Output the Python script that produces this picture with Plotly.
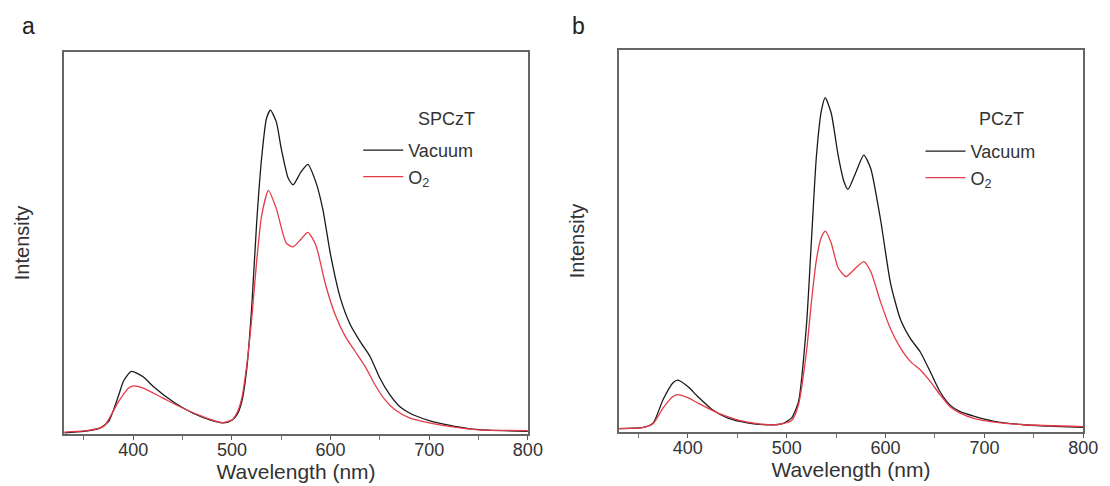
import plotly.graph_objects as go

# ---------- Data (relative intensity) ----------
# Panel a: SPCzT
a_vac_x = [330, 350, 365, 375, 385, 390, 398, 410, 420, 440, 460, 480, 492, 500, 505, 510, 515, 520, 525, 530, 535, 539,
           545, 550, 557, 562, 570, 577, 585, 592, 600, 610, 620, 630, 640, 650, 660, 670, 680, 700, 720, 740, 760, 800]
a_vac_y = [0.003, 0.007, 0.014, 0.033, 0.10, 0.138, 0.164, 0.150, 0.125, 0.085, 0.055, 0.035, 0.029, 0.036, 0.050, 0.085, 0.17, 0.33, 0.55, 0.72, 0.826, 0.848,
           0.817, 0.747, 0.670, 0.652, 0.686, 0.706, 0.660, 0.590, 0.469, 0.355, 0.286, 0.242, 0.203, 0.146, 0.103, 0.072, 0.055, 0.035, 0.023, 0.014, 0.010, 0.007]

a_o2_x = [330, 350, 370, 385, 395, 400, 410, 430, 450, 470, 490, 500, 505, 510, 515, 520, 525, 530, 537, 545, 555, 562,
          570, 577, 585, 595, 605, 615, 625, 635, 645, 655, 665, 680, 700, 720, 750, 800]
a_o2_y = [0.005, 0.008, 0.020, 0.085, 0.120, 0.126, 0.120, 0.094, 0.068, 0.046, 0.030, 0.037, 0.055, 0.094, 0.18, 0.30, 0.45, 0.57, 0.638, 0.590, 0.500, 0.490,
          0.510, 0.528, 0.495, 0.390, 0.310, 0.255, 0.216, 0.177, 0.129, 0.090, 0.064, 0.042, 0.029, 0.020, 0.011, 0.009]

# Panel b: PCzT
b_vac_x = [330, 355, 365, 375, 385, 390, 400, 410, 425, 440, 460, 480, 495, 505, 512, 520, 525, 530, 535, 539, 545, 552,
           558, 562, 570, 578, 585, 595, 605, 615, 625, 635, 645, 655, 665, 675, 690, 710, 740, 770, 800]
b_vac_y = [0.009, 0.012, 0.024, 0.085, 0.129, 0.136, 0.119, 0.093, 0.058, 0.037, 0.024, 0.019, 0.021, 0.037, 0.080, 0.28, 0.50, 0.72, 0.84, 0.875, 0.835, 0.725,
           0.655, 0.635, 0.680, 0.725, 0.690, 0.555, 0.390, 0.295, 0.245, 0.210, 0.159, 0.106, 0.071, 0.054, 0.041, 0.028, 0.019, 0.015, 0.012]

b_o2_x = [330, 355, 365, 375, 385, 390, 400, 410, 430, 450, 470, 490, 505, 512, 520, 525, 530, 535, 539, 545, 552, 560,
          570, 578, 585, 595, 605, 615, 625, 635, 645, 655, 665, 675, 690, 710, 740, 800]
b_o2_y = [0.009, 0.012, 0.022, 0.063, 0.093, 0.098, 0.090, 0.076, 0.050, 0.032, 0.022, 0.019, 0.030, 0.072, 0.21, 0.34, 0.45, 0.51, 0.526, 0.495, 0.430, 0.407,
          0.430, 0.446, 0.420, 0.340, 0.270, 0.220, 0.185, 0.163, 0.133, 0.098, 0.067, 0.050, 0.035, 0.026, 0.019, 0.014]

x_ticks = [400, 500, 600, 700, 800]
series_names = ["Vacuum", "O<sub>2</sub>"]
sample_names = ["SPCzT", "PCzT"]
panel_labels = ["a", "b"]

BLACK = "#1a1a1a"
RED = "#e63a48"
FONT = "Liberation Sans, Arial, sans-serif"
TXT = "#333333"

W, H = 1110, 486
fig = go.Figure()

line_style = dict(width=1.3, shape="spline", smoothing=0.6)
fig.add_trace(go.Scatter(x=a_vac_x, y=a_vac_y, mode="lines", line=dict(color=BLACK, **line_style),
                         name=series_names[0], xaxis="x", yaxis="y", legend="legend"))
fig.add_trace(go.Scatter(x=a_o2_x, y=a_o2_y, mode="lines", line=dict(color=RED, **line_style),
                         name=series_names[1], xaxis="x", yaxis="y", legend="legend"))
fig.add_trace(go.Scatter(x=b_vac_x, y=b_vac_y, mode="lines", line=dict(color=BLACK, **line_style),
                         name=series_names[0], xaxis="x2", yaxis="y2", legend="legend2"))
fig.add_trace(go.Scatter(x=b_o2_x, y=b_o2_y, mode="lines", line=dict(color=RED, **line_style),
                         name=series_names[1], xaxis="x2", yaxis="y2", legend="legend2"))

def px_x(p):
    return p / W

def px_y(p):
    return 1 - p / H

xaxis_common = dict(
    range=[330, 800], tickvals=x_ticks, ticks="outside", ticklen=4, tickwidth=1.3, tickcolor="#555",
    showline=True, linecolor="#666", linewidth=1.5, mirror=True, showgrid=False, zeroline=False,
    tickfont=dict(family=FONT, size=18, color=TXT), ticklabelstandoff=-5,
    minor=dict(dtick=50, tick0=350, ticks="outside", ticklen=4, tickwidth=1, tickcolor="#777"),
    title=dict(text="Wavelength (nm)", font=dict(family=FONT, size=21, color=TXT), standoff=0),
)
yaxis_common = dict(
    range=[0, 1], showticklabels=False, ticks="", showline=True, linecolor="#666", linewidth=1.5, mirror=True,
    showgrid=False, zeroline=False,
    title=dict(text="Intensity", font=dict(family=FONT, size=20, color=TXT), standoff=27),
)

fig.update_layout(
    width=W, height=H, margin=dict(l=0, r=0, t=0, b=0),
    paper_bgcolor="white", plot_bgcolor="white",
    xaxis=dict(domain=[px_x(57), px_x(527)], anchor="y", **xaxis_common),
    yaxis=dict(domain=[px_y(426), px_y(44)], anchor="x", **yaxis_common),
    xaxis2=dict(domain=[px_x(619), px_x(1090)], anchor="y2", **xaxis_common),
    yaxis2=dict(domain=[px_y(424), px_y(42)], anchor="x2", **yaxis_common),
    legend=dict(x=px_x(355), y=px_y(124), xanchor="left", yanchor="top", bgcolor="rgba(0,0,0,0)",
                font=dict(family=FONT, size=18, color=TXT), itemwidth=40, tracegroupgap=0),
    legend2=dict(x=px_x(925), y=px_y(125), xanchor="left", yanchor="top", bgcolor="rgba(0,0,0,0)",
                 font=dict(family=FONT, size=18, color=TXT), itemwidth=40, tracegroupgap=0),
    showlegend=True,
)

fig.add_annotation(text=sample_names[0], x=px_x(414), y=px_y(111), xref="paper", yref="paper",
                   xanchor="left", yanchor="middle", showarrow=False, font=dict(family=FONT, size=18, color=TXT))
fig.add_annotation(text=sample_names[1], x=px_x(982), y=px_y(111), xref="paper", yref="paper",
                   xanchor="left", yanchor="middle", showarrow=False, font=dict(family=FONT, size=18, color=TXT))
fig.add_annotation(text=panel_labels[0], x=px_x(12), y=px_y(18), xref="paper", yref="paper",
                   xanchor="left", yanchor="middle", showarrow=False, font=dict(family=FONT, size=23, color="#222"))
fig.add_annotation(text=panel_labels[1], x=px_x(570), y=px_y(18), xref="paper", yref="paper",
                   xanchor="left", yanchor="middle", showarrow=False, font=dict(family=FONT, size=23, color="#222"))

fig.write_html("out.html")
